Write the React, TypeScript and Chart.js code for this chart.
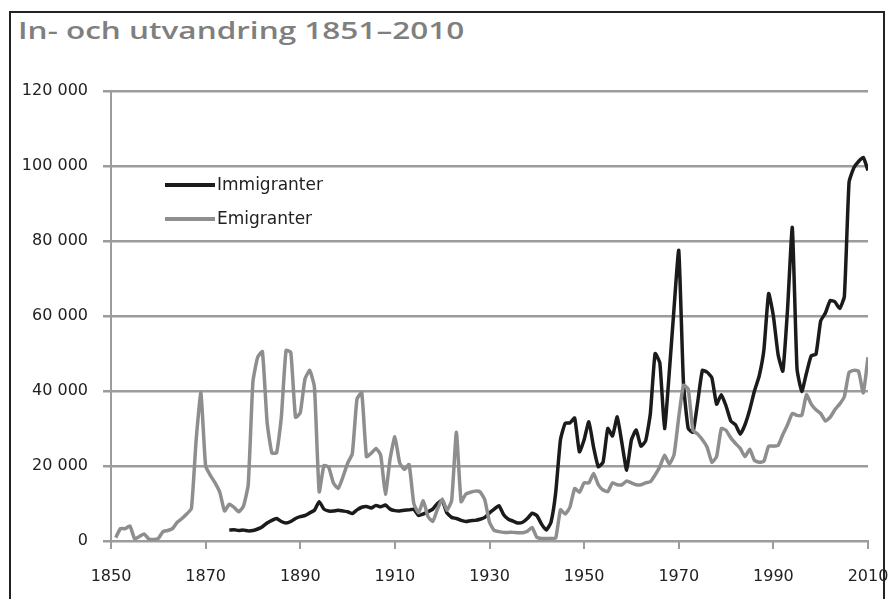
import React, { useEffect, useRef } from "react";
import { Chart, registerables } from "chart.js";

Chart.register(...registerables);

const TITLE = "In- och utvandring 1851–2010";
const IMMIGRANT_LABEL = "Immigranter";
const EMIGRANT_LABEL = "Emigranter";

const X_MIN = 1850;
const X_MAX = 2010;
const X_STEP = 20;
const Y_MIN = 0;
const Y_MAX = 120000;
const Y_STEP = 20000;

// Emigranter, one value per year from 1851
const EMIGRANT_START = 1851;
const emigranter = [
  // 1851-1860
  900, 3300, 3300, 4000, 600, 1200, 1900, 500, 400, 700,
  // 1861-1870
  2500, 2800, 3300, 5000, 6000, 7200, 8700, 27000, 39500, 20000,
  // 1871-1880
  17500, 15500, 13000, 8000, 9800, 9000, 7800, 9300, 15000, 42500,
  // 1881-1890
  49000, 50500, 31600, 23500, 23500, 33000, 50800, 50300, 33000, 34200,
  // 1891-1900
  43200, 45500, 41000, 13100, 20100, 19700, 15500, 14000, 17000, 20700,
  // 1901-1910
  23300, 37900, 39500, 22500, 23400, 24700, 22900, 12500, 22000, 27800,
  // 1911-1920
  20900, 19100, 20400, 10000, 7500, 10700, 6500, 5200, 8500, 11200,
  // 1921-1930
  8200, 10800, 29000, 10500, 12500, 13000, 13300, 13100, 11000, 5000,
  // 1931-1940
  2800, 2500, 2300, 2300, 2300, 2200, 2200, 2600, 3600, 1000,
  // 1941-1950
  700, 700, 700, 800, 8300, 7200, 9000, 14000, 13000, 15500,
  // 1951-1960
  15500, 18000, 15000, 13600, 13200, 15500, 15000, 15000, 16000, 15500,
  // 1961-1970
  15000, 15000, 15500, 15800, 17600, 19800, 22900, 20500, 23000, 33000,
  // 1971-1980
  41500, 40500, 29500, 28500, 27000, 25000, 21000, 22500, 30000, 29500,
  // 1981-1990
  27500, 26000, 24700, 22500, 24500, 21500, 21000, 21300, 25300, 25300,
  // 1991-2000
  25500, 28400, 31000, 34000, 33500, 33500, 39000, 36500, 35000, 34000,
  // 2001-2010
  32000, 33000, 35000, 36500, 38500, 45000, 45500, 45300, 39500, 49000,
];

// Immigranter, one value per year from 1875
const IMMIGRANT_START = 1875;
const immigranter = [
  // 1875-1880
  2900, 3000, 2800, 2900, 2700, 2800,
  // 1881-1890
  3200, 3800, 4800, 5500, 6000, 5200, 4800, 5200, 6000, 6500,
  // 1891-1900
  6800, 7500, 8200, 10500, 8500, 8000, 8000, 8200, 8000, 7800,
  // 1901-1910
  7300, 8300, 9000, 9200, 8800, 9500, 9100, 9600, 8500, 8100,
  // 1911-1920
  8000, 8200, 8300, 8500, 6800, 7200, 7800, 8500, 10000, 10800,
  // 1921-1930
  7500, 6300, 6000, 5500, 5200, 5400, 5500, 5800, 6300, 7500,
  // 1931-1940
  8500, 9400, 7000, 5800, 5300, 4800, 5000, 6000, 7400, 6800,
  // 1941-1950
  4500, 2900, 5000, 13000, 27000, 31400, 31500, 32800, 23800, 27000,
  // 1951-1960
  31800, 25000, 19800, 21000, 30000, 28000, 33100, 26000, 18900, 27000,
  // 1961-1970
  29600, 25300, 26700, 34000, 50000, 47500, 30000, 45000, 62000, 77500,
  // 1971-1980
  42000, 30000, 29000, 37000, 45500, 45000, 43500, 36500, 39000, 36000,
  // 1981-1990
  32000, 31000, 28500, 31000, 35000, 40000, 44000, 51000, 66000, 60000,
  // 1991-2000
  49700, 45300, 61900, 83600, 45900, 39900, 44800, 49400, 49800, 58700,
  // 2001-2010
  60800, 64100, 63800, 62000, 65200, 95700, 99500, 101200, 102300, 98800,
];

const toPoints = (start: number, values: number[]) =>
  values.map((v, i) => ({ x: start + i, y: v }));

const fmtThousands = (v: number) =>
  String(Math.round(v)).replace(/\B(?=(\d{3})+(?!\d))/g, " ");

const BLACK = "#1b1b1b";
const GRAY = "#8e8e8e";
const GRID = "#9c9c9c";
const TICK_FONT = "'DejaVu Sans', Verdana, sans-serif";

const insideLegend = {
  id: "insideLegend",
  afterDatasetsDraw(chart: any) {
    const ctx = chart.ctx as CanvasRenderingContext2D;
    const items = [
      { label: IMMIGRANT_LABEL, color: BLACK, y: 185 },
      { label: EMIGRANT_LABEL, color: GRAY, y: 219 },
    ];
    ctx.save();
    ctx.font = `17px ${TICK_FONT}`;
    ctx.textBaseline = "middle";
    ctx.textAlign = "left";
    for (const it of items) {
      ctx.strokeStyle = it.color;
      ctx.lineWidth = 4;
      ctx.lineCap = "butt";
      ctx.beginPath();
      ctx.moveTo(165, it.y);
      ctx.lineTo(215, it.y);
      ctx.stroke();
      ctx.fillStyle = "#222";
      ctx.fillText(it.label, 217, it.y + 1);
    }
    ctx.restore();
  },
};

export default function App() {
  const canvasRef = useRef<HTMLCanvasElement | null>(null);

  useEffect(() => {
    const canvas = canvasRef.current;
    if (!canvas) return;
    const chart = new Chart(canvas, {
      type: "line",
      data: {
        datasets: [
          {
            label: IMMIGRANT_LABEL,
            data: toPoints(IMMIGRANT_START, immigranter),
            borderColor: BLACK,
            backgroundColor: BLACK,
            borderWidth: 3.5,
            pointRadius: 0,
            tension: 0.15,
            order: 2,
          },
          {
            label: EMIGRANT_LABEL,
            data: toPoints(EMIGRANT_START, emigranter),
            borderColor: GRAY,
            backgroundColor: GRAY,
            borderWidth: 3.5,
            pointRadius: 0,
            tension: 0.15,
            order: 1,
          },
        ],
      },
      options: {
        animation: false,
        responsive: false,
        maintainAspectRatio: false,
        layout: { padding: { left: 0, right: 25, top: 91, bottom: 14 } },
        plugins: {
          legend: { display: false },
          tooltip: { enabled: false },
          title: { display: false },
        },
        scales: {
          x: {
            type: "linear",
            min: X_MIN,
            max: X_MAX,
            afterFit: (s: any) => {
              s.height = 44;
              s.paddingLeft = 0;
              s.paddingRight = 0;
            },
            ticks: {
              stepSize: X_STEP,
              color: "#222",
              font: { family: TICK_FONT, size: 16 },
              padding: 18,
              maxRotation: 0,
              callback: (v: any) => String(v),
            },
            grid: {
              drawOnChartArea: false,
              drawTicks: true,
              tickLength: 8,
              color: GRID,
              lineWidth: 2,
            },
            border: { display: true, color: GRID, width: 2 },
          },
          y: {
            type: "linear",
            min: Y_MIN,
            max: Y_MAX,
            afterFit: (s: any) => {
              s.width = 111;
              s.paddingTop = 0;
              s.paddingBottom = 0;
            },
            ticks: {
              stepSize: Y_STEP,
              color: "#222",
              font: { family: TICK_FONT, size: 16 },
              padding: 15,
              callback: (v: any) => fmtThousands(Number(v)),
            },
            grid: {
              drawOnChartArea: true,
              drawTicks: true,
              tickLength: 8,
              color: GRID,
              lineWidth: 2.5,
            },
            border: { display: true, color: GRID, width: 2 },
          },
        },
      },
      plugins: [insideLegend],
    });
    return () => chart.destroy();
  }, []);

  return (
    <div
      style={{
        position: "fixed",
        left: 0,
        top: 0,
        width: 893,
        height: 599,
        overflow: "hidden",
        background: "#fff",
      }}
    >
      <div
        style={{
          position: "absolute",
          left: 9,
          top: 11,
          width: 876,
          height: 620,
          border: "2px solid #222",
          boxSizing: "border-box",
        }}
      />
      <div
        style={{
          position: "absolute",
          left: 18,
          top: 19,
          fontFamily: "'Open Sans', sans-serif",
          fontWeight: 600,
          fontSize: 23,
          lineHeight: "23px",
          color: "#7f7f7f",
          whiteSpace: "nowrap",
          transform: "scaleX(1.37)",
          transformOrigin: "left top",
        }}
      >
        {TITLE}
      </div>
      <canvas
        ref={canvasRef}
        width={893}
        height={599}
        style={{ position: "absolute", left: 0, top: 0, width: 893, height: 599 }}
      />
    </div>
  );
}
